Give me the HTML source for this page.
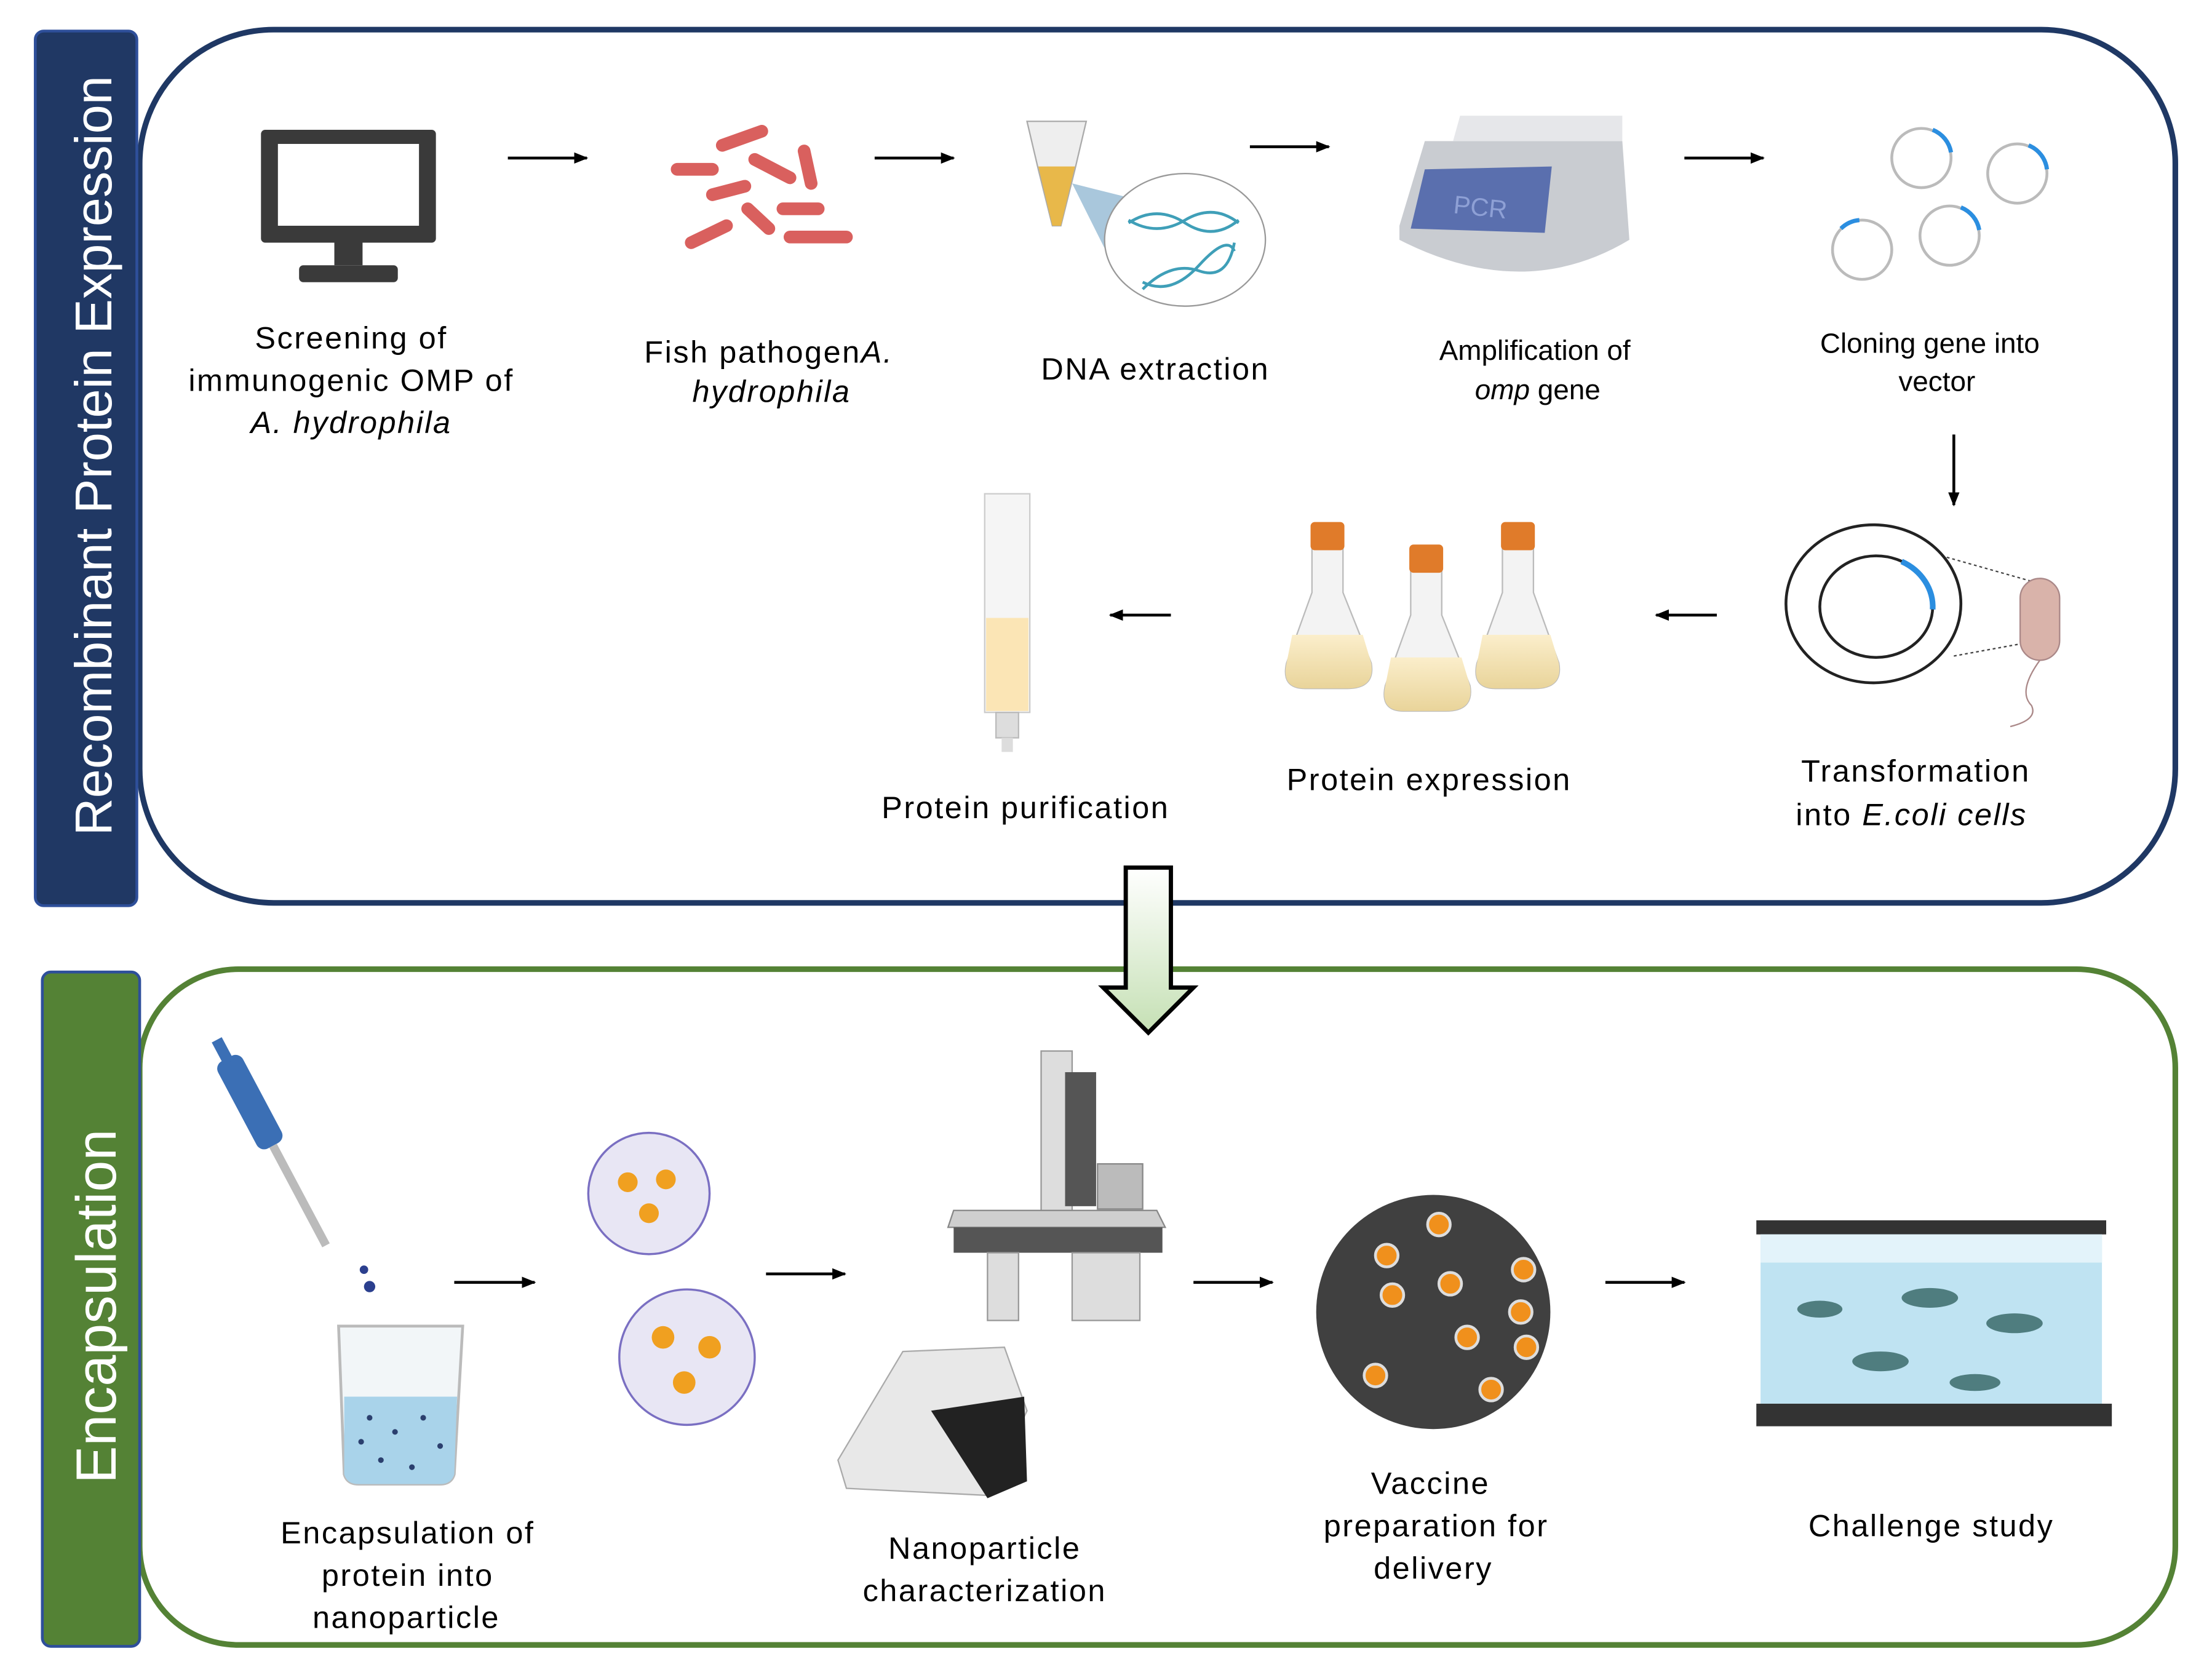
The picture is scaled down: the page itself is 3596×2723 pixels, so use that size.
<!DOCTYPE html>
<html><head><meta charset="utf-8"><style>
html,body{margin:0;padding:0;background:#fff;}
svg{display:block;}
text{font-family:"Liberation Sans",Arial,sans-serif;fill:#000;}
</style></head><body>
<svg width="3596" height="2723" viewBox="0 0 1568 1187.3" xmlns="http://www.w3.org/2000/svg">
<defs>
<marker id="ah" markerWidth="10" markerHeight="10" refX="9" refY="5" orient="auto" markerUnits="userSpaceOnUse"><path d="M0,1 L10,5 L0,9 Z" fill="#000"/></marker>
<linearGradient id="ga" x1="0" y1="0" x2="0" y2="1"><stop offset="0" stop-color="#fff"/><stop offset="1" stop-color="#c5e0b4"/></linearGradient>
<linearGradient id="liq" x1="0" y1="0" x2="0" y2="1"><stop offset="0" stop-color="#fbeecb"/><stop offset="1" stop-color="#e9d49a"/></linearGradient>
</defs>
<rect x="99" y="21" width="1443" height="619" rx="95" fill="#fff" stroke="#1f3864" stroke-width="4"/>
<rect x="25" y="22" width="72" height="620" rx="6" fill="#203864" stroke="#2e4f9a" stroke-width="2"/>
<text transform="translate(79,323) rotate(-90)" text-anchor="middle" font-size="37" style="fill:#fff">Recombinant Protein Expression</text>
<rect x="99" y="687" width="1443" height="479" rx="70" fill="#fff" stroke="#548235" stroke-width="4"/>
<rect x="30" y="689" width="69" height="478" rx="6" fill="#548235" stroke="#2e4f9a" stroke-width="2"/>
<text transform="translate(82,926) rotate(-90)" text-anchor="middle" font-size="40" style="fill:#fff">Encapsulation</text>
<path d="M798,615 L830,615 L830,700 L846,700 L814,732 L782,700 L798,700 Z" fill="url(#ga)" stroke="#000" stroke-width="3"/>

<g stroke="#000" stroke-width="2" marker-end="url(#ah)">
<line x1="360" y1="112" x2="416" y2="112"/>
<line x1="620" y1="112" x2="676" y2="112"/>
<line x1="886" y1="104" x2="942" y2="104"/>
<line x1="1194" y1="112" x2="1250" y2="112"/>
<line x1="1385" y1="308" x2="1385" y2="358"/>
<line x1="1217" y1="436" x2="1174" y2="436"/>
<line x1="830" y1="436" x2="787" y2="436"/>
<line x1="322" y1="909" x2="379" y2="909"/>
<line x1="543" y1="903" x2="599" y2="903"/>
<line x1="846" y1="909" x2="902" y2="909"/>
<line x1="1138" y1="909" x2="1194" y2="909"/>
</g>

<rect x="185" y="92" width="124" height="80" rx="3" fill="#3a3a3a"/>
<rect x="197" y="102" width="100" height="58" fill="#fff"/>
<rect x="237" y="172" width="20" height="16" fill="#3a3a3a"/>
<rect x="212" y="188" width="70" height="12" rx="3" fill="#3a3a3a"/>
<g stroke="#d9605e" stroke-width="9" stroke-linecap="round">
<line x1="512" y1="103" x2="540" y2="93"/><line x1="480" y1="120" x2="505" y2="120"/>
<line x1="535" y1="113" x2="560" y2="126"/><line x1="570" y1="107" x2="575" y2="130"/>
<line x1="505" y1="138" x2="528" y2="132"/><line x1="530" y1="148" x2="545" y2="162"/>
<line x1="555" y1="148" x2="580" y2="148"/><line x1="490" y1="172" x2="515" y2="160"/>
<line x1="560" y1="168" x2="600" y2="168"/>
</g>
<path d="M728,86 L770,86 L762,120 L752,160 L746,160 L736,120 Z" fill="#eee" stroke="#aaa"/>
<path d="M736,118 L762,118 L752,160 L746,160 Z" fill="#e8b84a"/>
<polygon points="760,130 800,140 790,190" fill="#a9c7dc"/>
<ellipse cx="840" cy="170" rx="57" ry="47" fill="#fff" stroke="#999"/>
<path d="M800,158 Q820,145 840,158 T878,156 M800,156 Q820,168 840,156 T878,158 M810,205 Q830,185 850,192 T875,172 M810,200 Q830,210 850,188 T875,178" stroke="#3f9fb8" stroke-width="2" fill="none"/>
<path d="M992,160 L1010,100 L1150,100 L1155,170 Q1080,215 992,170 Z" fill="#c9ccd1"/>
<path d="M1035,82 L1150,82 L1150,100 L1030,100 Z" fill="#e6e7ea"/>
<path d="M1010,120 L1100,118 L1095,165 L1000,162 Z" fill="#5a6fae"/>
<text x="1030" y="152" font-size="18" style="fill:#8ea0d5" transform="rotate(6,1040,150)">PCR</text>
<g fill="none" stroke="#bbb" stroke-width="2">
<circle cx="1362" cy="112" r="21"/><circle cx="1430" cy="123" r="21"/><circle cx="1382" cy="167" r="21"/><circle cx="1320" cy="177" r="21"/>
</g>
<g fill="none" stroke="#2b8ee0" stroke-width="3">
<path d="M1370,92 A21,21 0 0 1 1383,108"/><path d="M1438,103 A21,21 0 0 1 1451,120"/><path d="M1390,147 A21,21 0 0 1 1403,163"/><path d="M1305,162 A21,21 0 0 1 1318,156"/>
</g>
<ellipse cx="1328" cy="428" rx="62" ry="56" fill="#fff" stroke="#222" stroke-width="2"/>
<ellipse cx="1330" cy="430" rx="40" ry="36" fill="none" stroke="#222" stroke-width="2"/>
<path d="M1348,398 A40,36 0 0 1 1370,432" stroke="#2b8ee0" stroke-width="4" fill="none"/>
<line x1="1380" y1="395" x2="1440" y2="412" stroke="#444" stroke-dasharray="2,2"/>
<line x1="1385" y1="465" x2="1440" y2="455" stroke="#444" stroke-dasharray="2,2"/>
<rect x="1432" y="410" width="28" height="58" rx="14" fill="#d9b3aa" stroke="#a88"/>
<path d="M1446,468 Q1430,490 1440,500 Q1445,510 1425,515" stroke="#a88" fill="none"/>
<g>
<path d="M930,388 L952,388 L952,420 L972,470 Q975,488 955,488 L925,488 Q908,488 912,470 L930,420 Z" fill="#f3f3f3" stroke="#bbb"/>
<path d="M916,450 L966,450 L972,470 Q975,488 955,488 L925,488 Q908,488 912,470 Z" fill="url(#liq)"/>
<rect x="929" y="370" width="24" height="20" rx="3" fill="#e07b2a"/>
<path d="M1000,404 L1022,404 L1022,436 L1042,486 Q1045,504 1025,504 L995,504 Q978,504 982,486 L1000,436 Z" fill="#f3f3f3" stroke="#bbb"/>
<path d="M986,466 L1036,466 L1042,486 Q1045,504 1025,504 L995,504 Q978,504 982,486 Z" fill="url(#liq)"/>
<rect x="999" y="386" width="24" height="20" rx="3" fill="#e07b2a"/>
<path d="M1065,388 L1087,388 L1087,420 L1105,470 Q1108,488 1088,488 L1060,488 Q1043,488 1047,470 L1065,420 Z" fill="#f3f3f3" stroke="#bbb"/>
<path d="M1051,450 L1099,450 L1105,470 Q1108,488 1088,488 L1060,488 Q1043,488 1047,470 Z" fill="url(#liq)"/>
<rect x="1064" y="370" width="24" height="20" rx="3" fill="#e07b2a"/>
</g>
<rect x="698" y="350" width="32" height="155" fill="#f5f5f5" stroke="#ccc"/>
<rect x="699" y="438" width="30" height="66" fill="#fbe5b5"/>
<rect x="706" y="505" width="16" height="18" fill="#ddd" stroke="#bbb"/>
<rect x="710" y="523" width="8" height="10" fill="#ddd"/>

<g font-size="22" text-anchor="middle" letter-spacing="1.1">
<text x="249" y="247">Screening of</text>
<text x="249" y="277">immunogenic OMP of</text>
<text x="249" y="307" font-style="italic">A. hydrophila</text>
<text x="545" y="257">Fish pathogen<tspan font-style="italic">A.</tspan></text>
<text x="547" y="285" font-style="italic">hydrophila</text>
<text x="819" y="269">DNA extraction</text>
<text x="1088" y="255" font-size="20" letter-spacing="0">Amplification of</text>
<text x="1090" y="283" font-size="20" letter-spacing="0"><tspan font-style="italic">omp</tspan>  gene</text>
<text x="1368" y="250" font-size="20" letter-spacing="0">Cloning gene into</text>
<text x="1373" y="277" font-size="20" letter-spacing="0">vector</text>
<text x="1358" y="554">Transformation</text>
<text x="1355" y="585">into <tspan font-style="italic">E.coli cells</tspan></text>
<text x="1013" y="560">Protein expression</text>
<text x="727" y="580">Protein purification</text>
</g>

<g transform="rotate(-28,200,820)">
<rect x="188" y="740" width="20" height="70" rx="6" fill="#3b6fb5"/>
<rect x="194" y="725" width="8" height="18" fill="#3b6fb5"/>
<rect x="195" y="810" width="6" height="80" fill="#bbb"/>
</g>
<circle cx="258" cy="900" r="3" fill="#2b3f8e"/><circle cx="262" cy="912" r="4" fill="#2b3f8e"/>
<path d="M240,940 L328,940 L322,1045 Q320,1052 312,1052 L254,1052 Q246,1052 244,1045 Z" fill="#f2f6f8" stroke="#bbb" stroke-width="2"/>
<path d="M244,990 L324,990 L322,1045 Q320,1052 312,1052 L254,1052 Q246,1052 244,1045 Z" fill="#a9d3ea"/>
<g fill="#2b3f6e"><circle cx="262" cy="1005" r="2"/><circle cx="280" cy="1015" r="2"/><circle cx="300" cy="1005" r="2"/><circle cx="312" cy="1025" r="2"/><circle cx="270" cy="1035" r="2"/><circle cx="292" cy="1040" r="2"/><circle cx="256" cy="1022" r="2"/></g>
<g fill="#e8e6f4" stroke="#7a6fc2" stroke-width="1.5">
<circle cx="460" cy="846" r="43"/><circle cx="487" cy="962" r="48"/></g>
<g fill="#f0a020"><circle cx="445" cy="838" r="7"/><circle cx="472" cy="836" r="7"/><circle cx="460" cy="860" r="7"/>
<circle cx="470" cy="948" r="8"/><circle cx="503" cy="955" r="8"/><circle cx="485" cy="980" r="8"/></g>
<rect x="738" y="745" width="22" height="120" fill="#ddd" stroke="#999"/>
<rect x="755" y="760" width="22" height="95" fill="#555"/>
<rect x="778" y="825" width="32" height="32" fill="#bbb" stroke="#888"/>
<path d="M676,858 L820,858 L826,870 L672,870 Z" fill="#cfcfcf" stroke="#888"/>
<rect x="676" y="870" width="148" height="18" fill="#555"/>
<rect x="700" y="888" width="22" height="48" fill="#ddd" stroke="#999"/>
<rect x="760" y="888" width="48" height="48" fill="#ddd" stroke="#999"/>
<path d="M594,1035 L640,958 L712,955 L728,1000 L700,1060 L600,1055 Z" fill="#e8e8e8" stroke="#aaa"/>
<path d="M660,1000 L726,990 L728,1050 L700,1062 Z" fill="#222"/>
<circle cx="1016" cy="930" r="83" fill="#404040"/>
<g fill="#f0901c" stroke="#ddd" stroke-width="2">
<circle cx="1020" cy="868" r="8"/><circle cx="983" cy="890" r="8"/><circle cx="1028" cy="910" r="8"/><circle cx="987" cy="918" r="8"/><circle cx="1080" cy="900" r="8"/><circle cx="1040" cy="948" r="8"/><circle cx="1078" cy="930" r="8"/><circle cx="1082" cy="955" r="8"/><circle cx="975" cy="975" r="8"/><circle cx="1057" cy="985" r="8"/></g>
<rect x="1245" y="865" width="248" height="10" fill="#333"/>
<rect x="1248" y="875" width="242" height="120" fill="#bfe3f2"/>
<rect x="1248" y="875" width="242" height="20" fill="#e3f3fa"/>
<rect x="1245" y="995" width="252" height="16" fill="#333"/>
<g fill="#4f7d7f">
<ellipse cx="1290" cy="928" rx="16" ry="6"/><ellipse cx="1368" cy="920" rx="20" ry="7"/><ellipse cx="1428" cy="938" rx="20" ry="7"/><ellipse cx="1333" cy="965" rx="20" ry="7"/><ellipse cx="1400" cy="980" rx="18" ry="6"/></g>

<g font-size="22" text-anchor="middle" letter-spacing="1.1">
<text x="289" y="1094">Encapsulation of</text>
<text x="289" y="1124">protein into</text>
<text x="288" y="1154">nanoparticle</text>
<text x="698" y="1105">Nanoparticle</text>
<text x="698" y="1135">characterization</text>
<text x="1014" y="1059">Vaccine</text>
<text x="1018" y="1089">preparation for</text>
<text x="1016" y="1119">delivery</text>
<text x="1369" y="1089">Challenge study</text>
</g>
</svg>
</body></html>
